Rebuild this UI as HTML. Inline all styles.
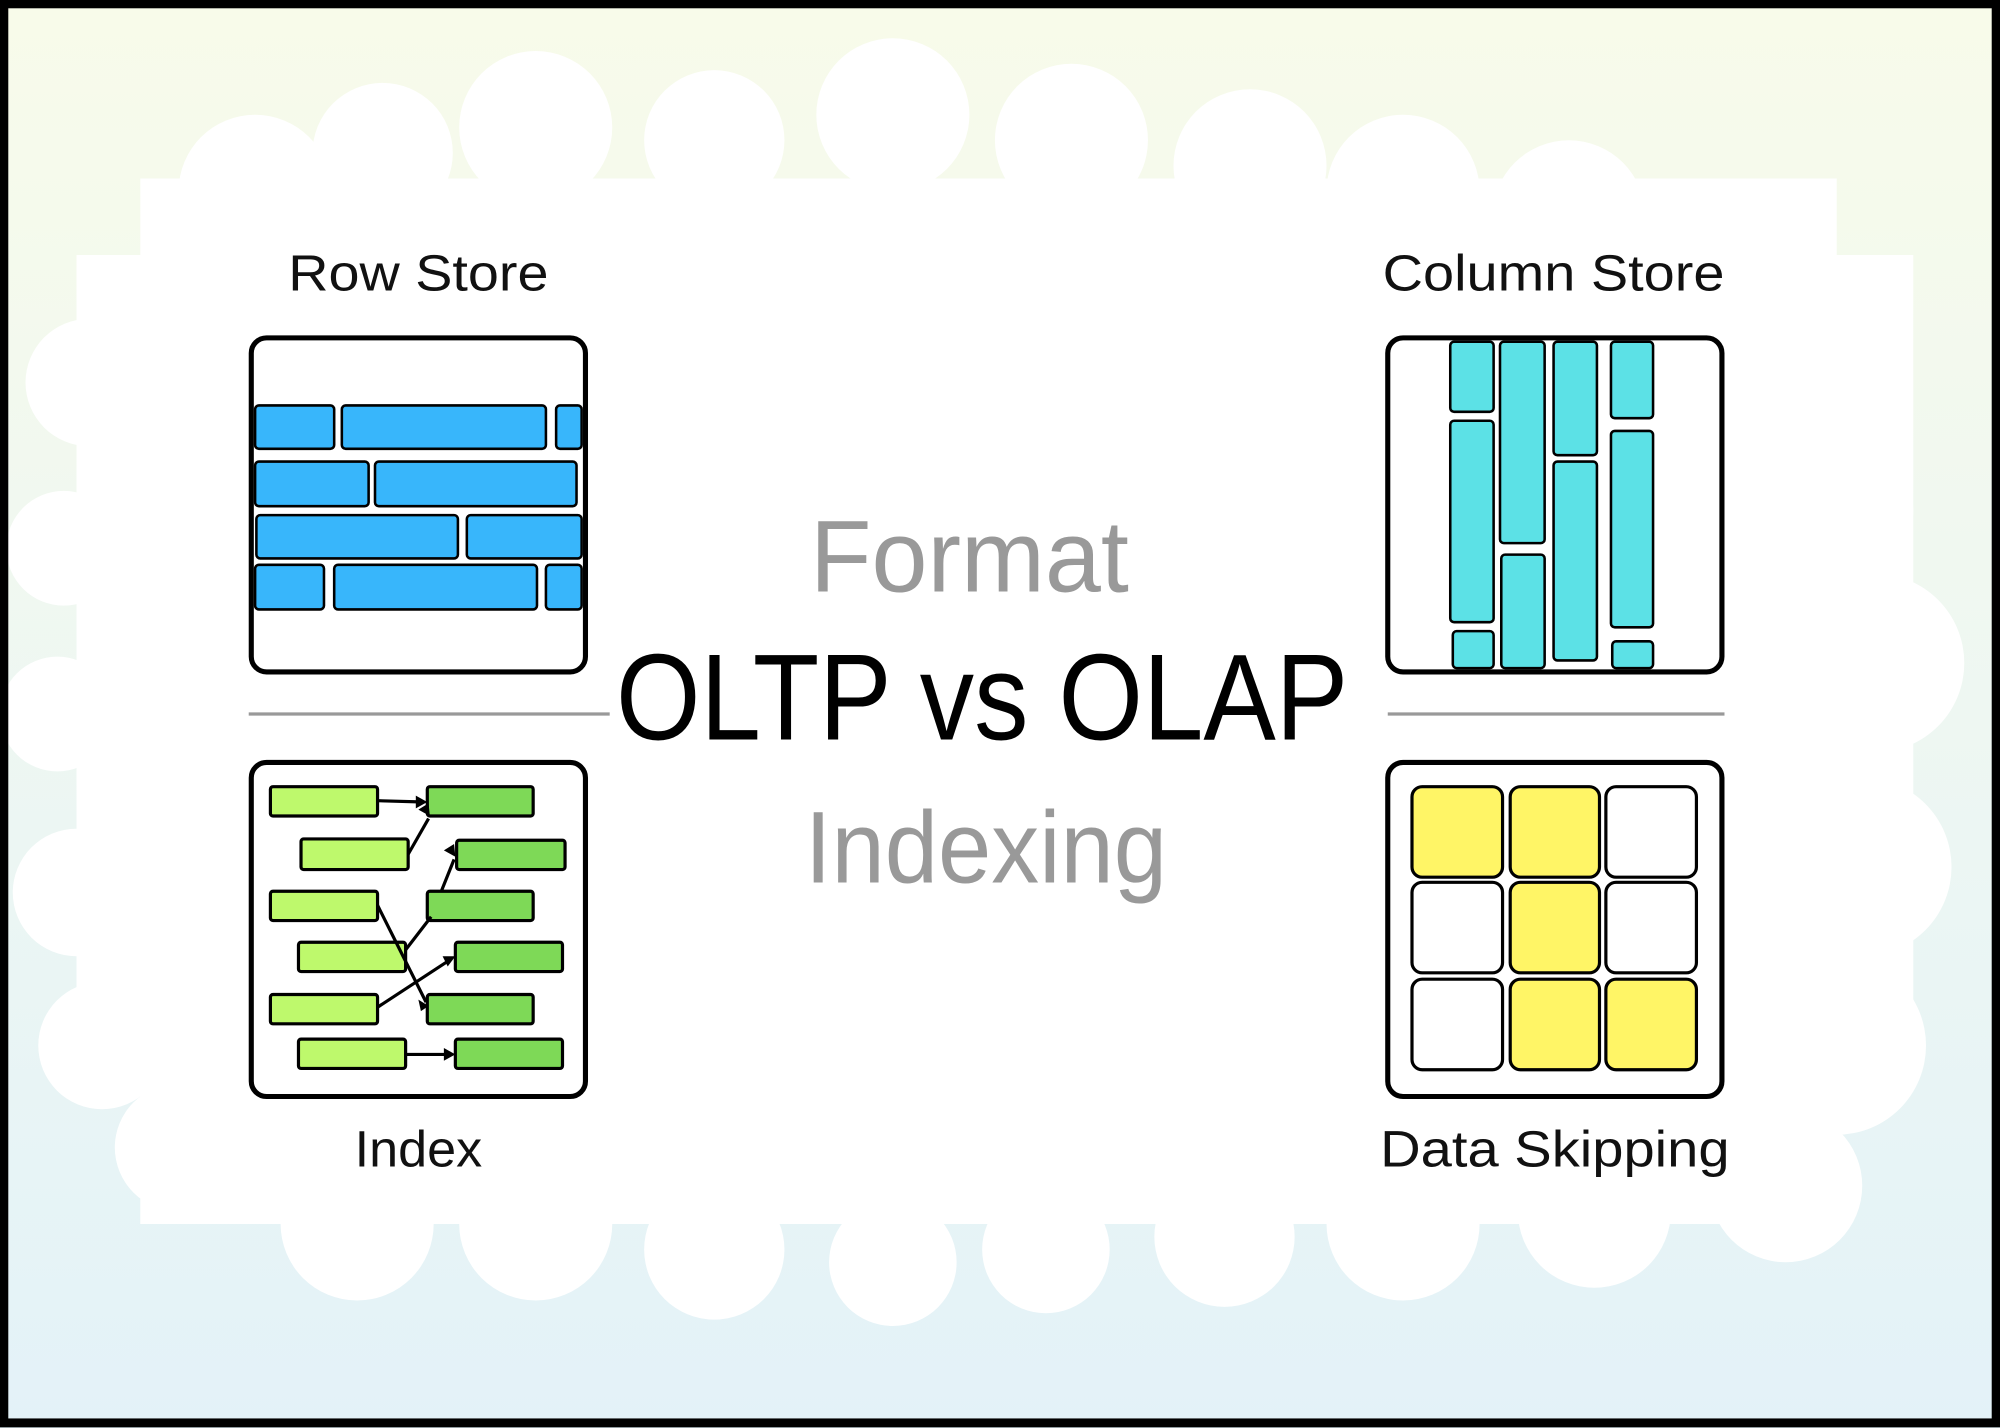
<!DOCTYPE html>
<html><head><meta charset="utf-8"><style>
html,body{margin:0;padding:0;background:#fff;}
svg{display:block;}
text{font-family:"Liberation Sans",sans-serif;}
</style></head><body>
<svg width="2000" height="1428" viewBox="0 0 1568 1120" preserveAspectRatio="none" xmlns="http://www.w3.org/2000/svg">
<defs>
<linearGradient id="bg" x1="0" y1="0" x2="0" y2="1">
<stop offset="0" stop-color="#f8fbea"/>
<stop offset="0.5" stop-color="#eef7f2"/>
<stop offset="1" stop-color="#e3f2f8"/>
</linearGradient>
</defs>
<rect x="0" y="0" width="1568" height="1120" fill="url(#bg)"/>
<!-- white cloud center -->
<g fill="#fff">
<rect x="110" y="140" width="1330" height="820"/>
<rect x="60" y="200" width="1440" height="640"/>
<circle cx="200" cy="150" r="60"/><circle cx="300" cy="120" r="55"/><circle cx="420" cy="100" r="60"/>
<circle cx="560" cy="110" r="55"/><circle cx="700" cy="90" r="60"/><circle cx="840" cy="110" r="60"/>
<circle cx="980" cy="130" r="60"/><circle cx="1100" cy="150" r="60"/><circle cx="1230" cy="170" r="60"/>
<circle cx="1340" cy="230" r="70"/><circle cx="1420" cy="400" r="80"/><circle cx="1470" cy="520" r="70"/>
<circle cx="1460" cy="680" r="70"/><circle cx="1440" cy="820" r="70"/><circle cx="1400" cy="930" r="60"/>
<circle cx="70" cy="300" r="50"/><circle cx="50" cy="430" r="45"/><circle cx="45" cy="560" r="45"/>
<circle cx="60" cy="700" r="50"/><circle cx="80" cy="820" r="50"/><circle cx="140" cy="900" r="50"/>
<circle cx="280" cy="960" r="60"/><circle cx="420" cy="960" r="60"/><circle cx="560" cy="980" r="55"/>
<circle cx="700" cy="990" r="50"/><circle cx="820" cy="980" r="50"/><circle cx="960" cy="970" r="55"/>
<circle cx="1100" cy="960" r="60"/><circle cx="1250" cy="950" r="60"/>
</g>
<!-- frame -->
<rect x="3" y="3" width="1562" height="1113" fill="none" stroke="#000" stroke-width="7"/>

<!-- texts -->
<text x="328" y="228" font-size="40" text-anchor="middle" textLength="204" lengthAdjust="spacingAndGlyphs" fill="#111">Row Store</text>
<text x="1218" y="228" font-size="40" text-anchor="middle" textLength="268" lengthAdjust="spacingAndGlyphs" fill="#111">Column Store</text>
<text x="328" y="915" font-size="40" text-anchor="middle" textLength="100" lengthAdjust="spacingAndGlyphs" fill="#111">Index</text>
<text x="1219" y="915" font-size="40" text-anchor="middle" textLength="274" lengthAdjust="spacingAndGlyphs" fill="#111">Data Skipping</text>
<text x="760" y="464" font-size="80" text-anchor="middle" textLength="250" lengthAdjust="spacingAndGlyphs" fill="#999">Format</text>
<text x="773" y="692" font-size="80" text-anchor="middle" textLength="284" lengthAdjust="spacingAndGlyphs" fill="#999">Indexing</text>
<text x="770" y="580" font-size="96" text-anchor="middle" textLength="574" lengthAdjust="spacingAndGlyphs" fill="#000">OLTP vs OLAP</text>

<!-- separators -->
<line x1="195" y1="560" x2="478" y2="560" stroke="#999" stroke-width="2.5"/>
<line x1="1088" y1="560" x2="1352" y2="560" stroke="#999" stroke-width="2.5"/>

<!-- Row store -->
<rect x="197" y="265" width="262" height="262" rx="12" fill="#fff" stroke="#000" stroke-width="4"/>
<g fill="#38b6fb" stroke="#000" stroke-width="2">
<rect x="200" y="318" width="62" height="34" rx="3"/><rect x="268" y="318" width="160" height="34" rx="3"/><rect x="436" y="318" width="20" height="34" rx="3"/>
<rect x="200" y="362" width="89" height="35" rx="3"/><rect x="294" y="362" width="158" height="35" rx="3"/>
<rect x="201" y="404" width="158" height="34" rx="3"/><rect x="366" y="404" width="90" height="34" rx="3"/>
<rect x="200" y="443" width="54" height="35" rx="3"/><rect x="262" y="443" width="159" height="35" rx="3"/><rect x="428" y="443" width="28" height="35" rx="3"/>
</g>

<!-- Column store -->
<rect x="1088" y="265" width="262" height="262" rx="12" fill="#fff" stroke="#000" stroke-width="4"/>
<g fill="#5ce1e6" stroke="#000" stroke-width="2">
<rect x="1137" y="268" width="34" height="55" rx="3"/><rect x="1137" y="330" width="34" height="158" rx="3"/><rect x="1139" y="495" width="32" height="29" rx="3"/>
<rect x="1176" y="268" width="35" height="158" rx="3"/><rect x="1177" y="435" width="34" height="89" rx="3"/>
<rect x="1218" y="268" width="34" height="89" rx="3"/><rect x="1218" y="362" width="34" height="156" rx="3"/>
<rect x="1263" y="268" width="33" height="60" rx="3"/><rect x="1263" y="338" width="33" height="154" rx="3"/><rect x="1264" y="503" width="32" height="21" rx="3"/>
</g>

<!-- Index -->
<rect x="197" y="598" width="262" height="262" rx="12" fill="#fff" stroke="#000" stroke-width="4"/>
<g stroke="#000" stroke-width="2.5">
<g fill="#bef96c">
<rect x="212" y="617" width="84" height="23" rx="2"/><rect x="236" y="658" width="84" height="24" rx="2"/>
<rect x="212" y="699" width="84" height="23" rx="2"/><rect x="234" y="739" width="84" height="23" rx="2"/>
<rect x="212" y="780" width="84" height="23" rx="2"/><rect x="234" y="815" width="84" height="23" rx="2"/>
</g>
<g fill="#7ed957">
<rect x="335" y="617" width="83" height="23" rx="2"/><rect x="358" y="659" width="85" height="23" rx="2"/>
<rect x="335" y="699" width="83" height="23" rx="2"/><rect x="357" y="739" width="84" height="23" rx="2"/>
<rect x="335" y="780" width="83" height="23" rx="2"/><rect x="357" y="815" width="84" height="23" rx="2"/>
</g>
<g fill="none">
<path d="M296 628 L332 629"/><path d="M320 670 L336 642"/>
<path d="M296 710 L334 786"/><path d="M318 745 L338 719"/><path d="M346 699 L356 674"/>
<path d="M296 790 L354 752"/><path d="M318 827 L354 827"/>
</g>
<g fill="#000" stroke="none">
<path d="M335 629 l-9 -5 v10z"/><path d="M337 640 l-1 -10 l-8 5z"/><path d="M357 672 l-1 -10 l-8 5z"/>
<path d="M336 789 l-8 -5 l2 9z"/><path d="M357 750 l-10 0 l4 8z"/><path d="M357 827 l-9 -5 v10z"/>
</g>
</g>

<!-- Data skipping -->
<rect x="1088" y="598" width="262" height="262" rx="12" fill="#fff" stroke="#000" stroke-width="4"/>
<g stroke="#000" stroke-width="2.5">
<rect x="1107" y="617" width="71" height="71" rx="8" fill="#fff566"/>
<rect x="1184" y="617" width="70" height="71" rx="8" fill="#fff566"/>
<rect x="1259" y="617" width="71" height="71" rx="8" fill="#fff"/>
<rect x="1107" y="692" width="71" height="71" rx="8" fill="#fff"/>
<rect x="1184" y="692" width="70" height="71" rx="8" fill="#fff566"/>
<rect x="1259" y="692" width="71" height="71" rx="8" fill="#fff"/>
<rect x="1107" y="768" width="71" height="71" rx="8" fill="#fff"/>
<rect x="1184" y="768" width="70" height="71" rx="8" fill="#fff566"/>
<rect x="1259" y="768" width="71" height="71" rx="8" fill="#fff566"/>
</g>
</svg>
</body></html>
